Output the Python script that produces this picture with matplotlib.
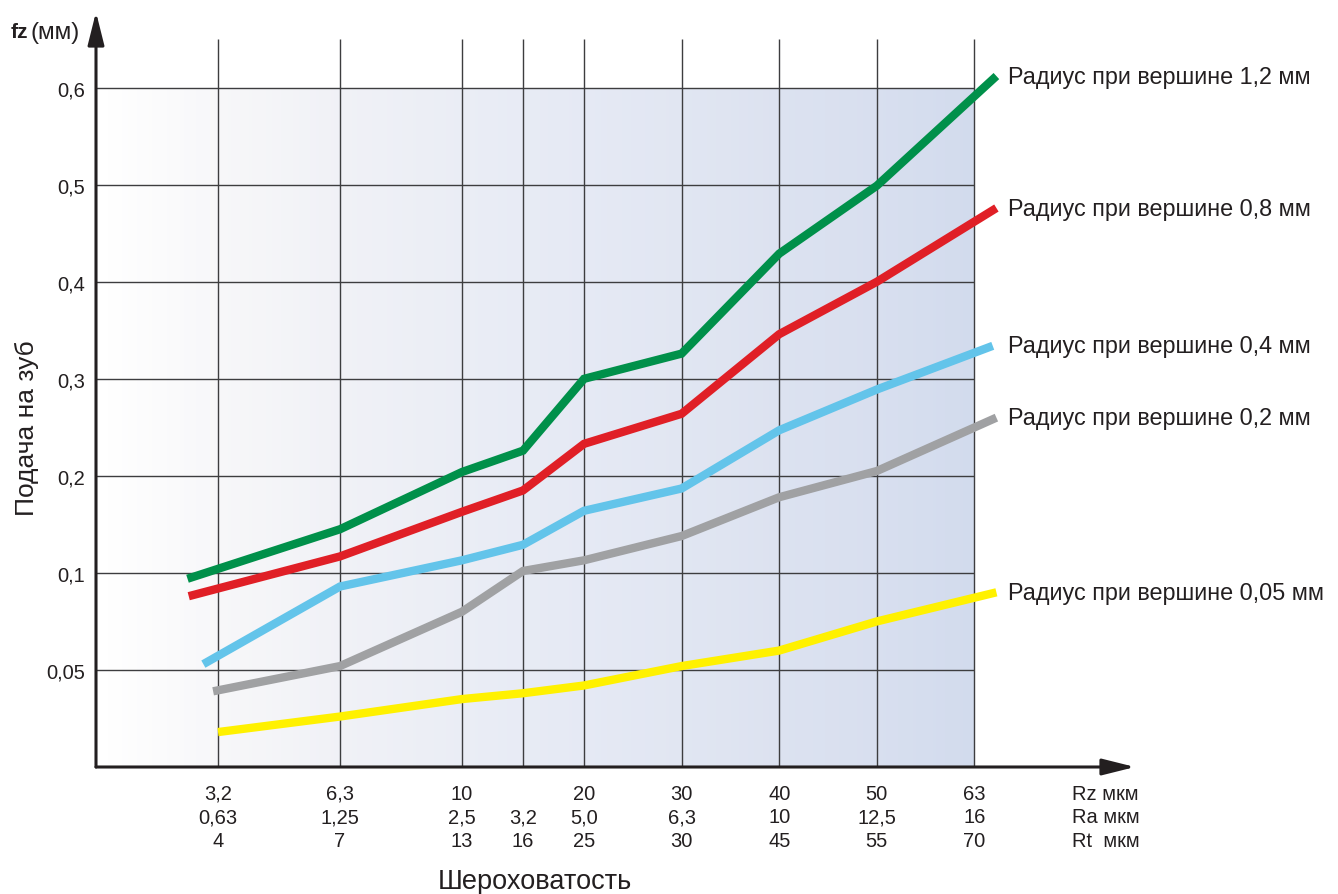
import numpy as np
import matplotlib
matplotlib.use("Agg")
import matplotlib.pyplot as plt
from matplotlib.colors import LinearSegmentedColormap
from matplotlib.transforms import blended_transform_factory

plt.rcParams['font.family'] = ['Liberation Sans', 'DejaVu Sans']

# column positions of the roughness grid (axis units)
x_pos = [1, 2, 3, 3.5, 4, 4.8, 5.6, 6.4, 7.2]
rz_labels = ['3,2', '6,3', '10', '', '20', '30', '40', '50', '63']
ra_labels = ['0,63', '1,25', '2,5', '3,2', '5,0', '6,3', '10', '12,5', '16']
rt_labels = ['4', '7', '13', '16', '25', '30', '45', '55', '70']

# feed axis: labelled values sit at equal steps
y_ticks = [0.05, 0.1, 0.2, 0.3, 0.4, 0.5, 0.6]
y_tick_labels = ['0,05', '0,1', '0,2', '0,3', '0,4', '0,5', '0,6']

# curves: feed per tooth fz (mm)
x_r12 = [0.75, 2, 3, 3.5, 4, 4.8, 5.6, 6.4, 7.38]
fz_r12 = [0.097, 0.145, 0.204, 0.226, 0.300, 0.326, 0.429, 0.499, 0.612]
x_r08 = [0.76, 2, 3, 3.5, 4, 4.8, 5.6, 6.4, 7.38]
fz_r08 = [0.088, 0.117, 0.163, 0.185, 0.233, 0.264, 0.346, 0.400, 0.476]
x_r04 = [0.88, 2, 3, 3.5, 4, 4.8, 5.6, 6.4, 7.35]
fz_r04 = [0.053, 0.093, 0.113, 0.129, 0.164, 0.187, 0.247, 0.289, 0.334]
x_r02 = [0.96, 2, 3, 3.5, 4, 4.8, 5.6, 6.4, 7.38]
fz_r02 = [0.039, 0.052, 0.080, 0.102, 0.113, 0.138, 0.178, 0.205, 0.260]
x_r005 = [1.0, 2, 3, 3.5, 4, 4.8, 5.6, 6.4, 7.38]
fz_r005 = [0.018, 0.026, 0.035, 0.038, 0.042, 0.052, 0.060, 0.075, 0.090]

series = [
    (x_r12, fz_r12, '#00904a', 'Радиус при вершине 1,2 мм'),
    (x_r08, fz_r08, '#e01f26', 'Радиус при вершине 0,8 мм'),
    (x_r04, fz_r04, '#63c4ea', 'Радиус при вершине 0,4 мм'),
    (x_r02, fz_r02, '#a0a1a3', 'Радиус при вершине 0,2 мм'),
    (x_r005, fz_r005, '#fff100', 'Радиус при вершине 0,05 мм'),
]

# piecewise scale: 0 -> 0.05 -> 0.1 -> 0.2 ... each one grid step
scale_vals = [0, 0.05, 0.1, 0.2, 0.3, 0.4, 0.5, 0.6, 0.7, 0.8]
scale_pos = list(range(len(scale_vals)))

def fwd(v):
    return np.interp(v, scale_vals, scale_pos)

def inv(p):
    return np.interp(p, scale_pos, scale_vals)

W, H = 1338, 895
fig = plt.figure(figsize=(W / 100, H / 100), dpi=100)
ax = fig.add_axes([96 / W, 1 - 768 / H, (1135 - 96) / W, (768 - 13) / H])
ax.set_yscale('function', functions=(fwd, inv))
ax.set_xlim(0, 8.516)
ax.set_ylim(0, 0.678)

# background gradient
bg_cmap = LinearSegmentedColormap.from_list('bg', [
    (0.0, '#ffffff'), (1 / 7.2, '#f7f7f9'), (2 / 7.2, '#f0f1f6'),
    (3 / 7.2, '#eaedf5'), (4 / 7.2, '#e5e9f4'), (4.8 / 7.2, '#e1e6f2'),
    (5.6 / 7.2, '#dce2f0'), (6.4 / 7.2, '#d8dfef'), (1.0, '#d2dbed')])
xe = np.linspace(0, 7.2, 300)
ax.pcolormesh(xe, [0, 0.6], xe[:-1][None, :], cmap=bg_cmap, zorder=0,
              shading='flat')

grid_c = '#3d3d3f'
ax.hlines(y_ticks, 0, 7.2, color=grid_c, lw=1.0, zorder=1)
ax.vlines(x_pos, 0, 0.65, color=grid_c, lw=1.0, zorder=1)

for xs, ys, col, lab in series:
    ax.plot(xs, ys, color=col, lw=6, solid_capstyle='butt',
            solid_joinstyle='miter', zorder=3, clip_on=False)
    ax.text(7.475, ys[-1], lab, fontsize=16.8, va='center', ha='left',
            color='#231f20')

for s in ax.spines.values():
    s.set_visible(False)

ax.set_yticks(y_ticks)
ax.set_yticklabels(y_tick_labels)
ax.minorticks_off()
ax.set_xticks([])
ax.tick_params(axis='y', length=0, pad=8, labelsize=14.5, labelcolor='#231f20')

# axes with arrow heads
axis_c = '#231f20'
arrow = dict(arrowstyle='-|>,head_length=1.0,head_width=0.25', lw=2.2,
             color=axis_c, mutation_scale=20, shrinkA=0, shrinkB=0)
ax.annotate('', xy=(0, 1), xytext=(0, 0), xycoords='axes fraction',
            arrowprops=arrow, annotation_clip=False)
ax.annotate('', xy=(1, 0), xytext=(0, 0), xycoords='axes fraction',
            arrowprops=arrow, annotation_clip=False)

# x tick rows
trans = blended_transform_factory(ax.transData, ax.transAxes)
rows = [(rz_labels, -19, 'Rz мкм'), (ra_labels, -36, 'Ra мкм'),
        (rt_labels, -53, 'Rt  мкм')]
for labels, off, name in rows:
    for xp, t in zip(x_pos, labels):
        ax.annotate(t, xy=(xp, 0), xycoords=trans, xytext=(0, off),
                    textcoords='offset points', ha='center', va='center',
                    fontsize=14.5, color=axis_c, annotation_clip=False)
    ax.annotate(name, xy=(8.0, 0), xycoords=trans, xytext=(0, off),
                textcoords='offset points', ha='left', va='center',
                fontsize=14.5, color=axis_c, annotation_clip=False)

fig.text(11 / W, 1 - 33 / H, 'fz', fontsize=15, weight='bold',
         va='center', ha='left', color=axis_c)
fig.text(31 / W, 1 - 33 / H, '(мм)', fontsize=17.5, va='center', ha='left',
         color=axis_c)
fig.text(27 / W, 1 - 428 / H, 'Подача на зуб', fontsize=19, rotation=90,
         ha='center', va='center', color=axis_c)
fig.text(535 / W, 1 - 882 / H, 'Шероховатость', fontsize=19.5,
         ha='center', va='center', color=axis_c)

fig.savefig('out.png', dpi=100)
